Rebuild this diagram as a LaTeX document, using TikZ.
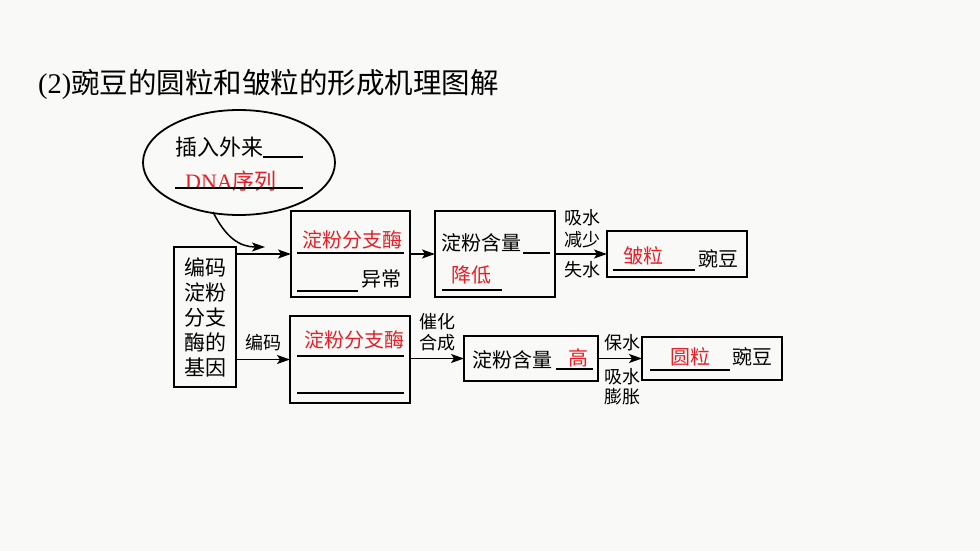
\documentclass[tikz,border=0pt]{standalone}
\usepackage{fontspec}
\setmainfont{Noto Sans CJK SC}
\newfontfamily\latinserif{Liberation Serif}
\usetikzlibrary{arrows.meta,shapes.geometric}
\definecolor{bgc}{HTML}{F9FAF7}
\definecolor{ansred}{RGB}{230,30,40}
\tikzset{
 box/.style={draw, line width=1.8pt, inner sep=0pt, outer sep=0pt},
 txt/.style={inner sep=0pt, font=\fontsize{20}{24}\selectfont},
 ans/.style={txt, text=ansred},
 lbl/.style={inner sep=0pt, font=\fontsize{18}{20}\selectfont},
 uline/.style={line width=1.4pt},
 arr/.style={line width=1.5pt, -{Stealth[length=13pt,width=9pt,inset=3pt]}},
}
\begin{document}
\begin{tikzpicture}[x=1pt,y=-1pt]
\fill[bgc] (0,0) rectangle (980,551);
\useasboundingbox (0,0) rectangle (980,551);

% title
\node[anchor=west, inner sep=0pt, font=\fontsize{28.5}{31}\selectfont] (title) at (38,84) {{\latinserif (2)}豌豆的圆粒和皱粒的形成机理图解};

% ellipse
\node[draw, ellipse, line width=1.8pt, minimum width=192, minimum height=105, inner sep=0pt] (ell) at (239,162.5) {};
\node[inner sep=0pt, font=\fontsize{22}{24}\selectfont] (elltxt1) at (219.5,147) {插入外来};
\draw[uline] (263,157) -- (303,157);
\node[inner sep=0pt, font=\fontsize{22}{24}\selectfont, text=ansred] (elltxt2) at (231,181) {{\latinserif DNA}序列};
\draw[uline] (175,188) -- (303,188);
\coordinate (tailstart) at (213,212);
\coordinate (tailend) at (265,247);
\draw[arr] (tailstart) .. controls (226,238) and (240,247) .. (tailend);

% boxes
\node[box, minimum width=62, minimum height=140] (gene) at (205,317) {};
\node[txt, align=center, font=\fontsize{21}{25}\selectfont] (genetxt) at (gene.center) {编码\\淀粉\\分支\\酶的\\基因};

\node[box, minimum width=119, minimum height=86] (A) at (350.5,254) {};
\node[ans] (Atxt) at (352,240) {淀粉分支酶};
\draw[uline] (297,253) -- (404,253);
\node[txt] (Atxt2) at (381,279) {异常};
\draw[uline] (297,291) -- (358,291);

\node[box, minimum width=120, minimum height=86] (B) at (495,254) {};
\node[txt] (Btxt) at (481.5,243) {淀粉含量};
\draw[uline] (523,253) -- (550,253);
\node[ans] (Btxt2) at (471,275) {降低};
\draw[uline] (442,290) -- (502,290);

\node[box, minimum width=140, minimum height=46] (C) at (677,254) {};
\node[ans] (Ctxt) at (643,256) {皱粒};
\draw[uline] (613,270) -- (695,270);
\node[txt] (Ctxt2) at (718,259) {豌豆};

\node[box, minimum width=120, minimum height=87] (D) at (350,359.5) {};
\node[ans] (Dtxt) at (354,340) {淀粉分支酶};
\draw[uline] (297,356) -- (404,356);
\draw[uline] (297,393) -- (404,393);

\node[box, minimum width=134, minimum height=45] (F) at (531,358.5) {};
\node[txt] (Ftxt) at (512.5,360) {淀粉含量};
\draw[uline] (556,369) -- (593,369);
\node[ans] (Ftxt2) at (578,358) {高};

\node[box, minimum width=140, minimum height=43] (E) at (712,358.5) {};
\node[ans] (Etxt) at (690,357) {圆粒};
\draw[uline] (650,370) -- (730,370);
\node[txt] (Etxt2) at (752.5,357) {豌豆};

% arrows
\draw[arr] (gene.east |- A.west) -- (A.west);
\draw[arr] (A.east) -- (B.west);
\draw[arr] (B.east |- C.west) -- (C.west);
\draw[arr] (gene.east |- D.west) -- (D.west);
\draw[arr] (D.east |- F.west) -- (F.west);
\draw[arr] (F.east) -- (E.west);

% labels
\node[lbl] (l1) at (263,343) {编码};
\node[lbl] (l2) at (437,322) {催化};
\node[lbl] (l3) at (437,343) {合成};
\node[lbl] (l4) at (582,218) {吸水};
\node[lbl] (l5) at (582,240) {减少};
\node[lbl] (l6) at (582,270) {失水};
\node[lbl] (l7) at (622,343) {保水};
\node[lbl] (l8) at (622,377) {吸水};
\node[lbl] (l9) at (622,397) {膨胀};
\end{tikzpicture}
\end{document}
